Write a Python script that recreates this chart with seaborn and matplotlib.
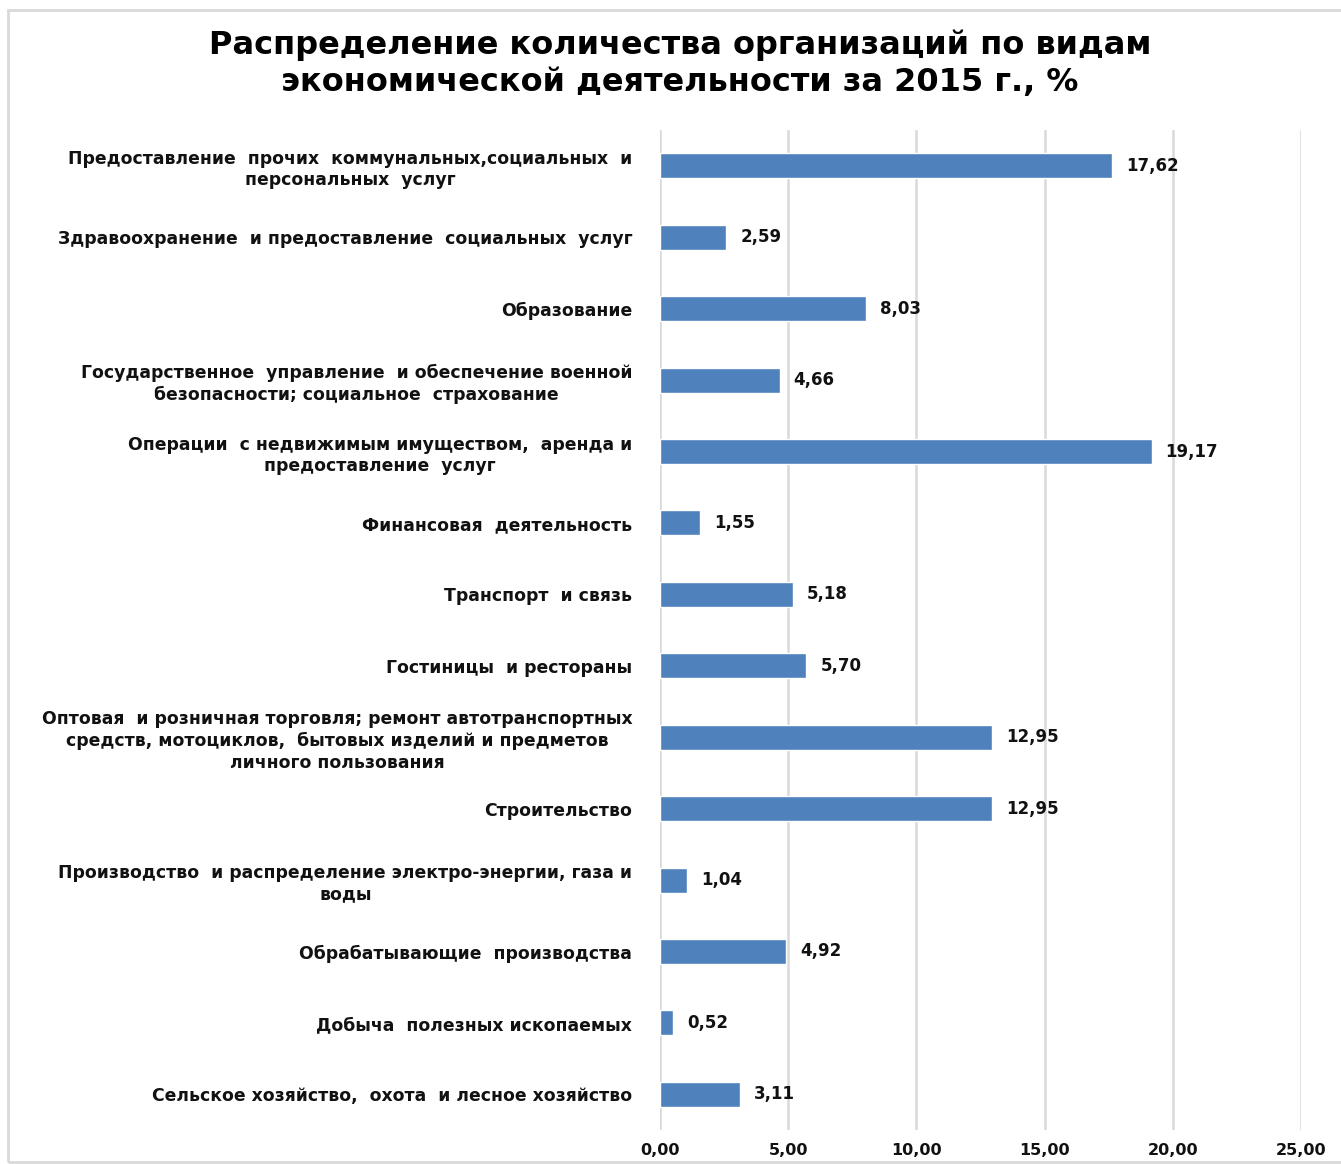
import matplotlib
matplotlib.use('Agg')
import matplotlib.pyplot as plt
import pandas as pd
import seaborn as sns
from matplotlib.patches import Rectangle
from matplotlib.ticker import FuncFormatter

# данные (сверху вниз, как на графике)
categories = [
    'Предоставление  прочих  коммунальных,социальных  и\nперсональных  услуг',
    'Здравоохранение  и предоставление  социальных  услуг',
    'Образование',
    'Государственное  управление  и обеспечение военной\nбезопасности; социальное  страхование',
    'Операции  с недвижимым имуществом,  аренда и\nпредоставление  услуг',
    'Финансовая  деятельность',
    'Транспорт  и связь',
    'Гостиницы  и рестораны',
    'Оптовая  и розничная торговля; ремонт автотранспортных\nсредств, мотоциклов,  бытовых изделий и предметов\nличного пользования',
    'Строительство',
    'Производство  и распределение электро-энергии, газа и\nводы',
    'Обрабатывающие  производства',
    'Добыча  полезных ископаемых',
    'Сельское хозяйство,  охота  и лесное хозяйство',
]
values = [17.62, 2.59, 8.03, 4.66, 19.17, 1.55, 5.18, 5.70, 12.95, 12.95, 1.04, 4.92, 0.52, 3.11]
x_ticks = [0, 5, 10, 15, 20, 25]

df = pd.DataFrame({'cat': categories, 'val': values})

sns.set_style('white')
plt.rcParams['font.family'] = ['DejaVu Sans']

fig = plt.figure(figsize=(13.41, 11.64), dpi=100)
ax = fig.add_axes([0.4922, 0.0292, 0.478, 0.859])

sns.barplot(data=df, y='cat', x='val', color='#4f81bd', saturation=1,
            width=0.35, ax=ax)

ax.set_xlim(0, 25)
ax.set_xticks(x_ticks)
ax.xaxis.set_major_formatter(FuncFormatter(lambda v, p: f'{v:.2f}'.replace('.', ',')))
ax.grid(axis='x', color='#d9d9d9', linewidth=1.8)
ax.set_axisbelow(True)
for s in ax.spines.values():
    s.set_visible(False)
ax.set_xlabel('')
ax.set_ylabel('')
ax.tick_params(axis='x', length=0, pad=9, labelsize=11.5, labelcolor='#111111')
ax.tick_params(axis='y', length=0, pad=20, labelsize=12.4, labelcolor='#111111')
for lab in ax.get_xticklabels():
    lab.set_fontweight('bold')
for lab in ax.get_yticklabels():
    lab.set_fontweight('bold')
    lab.set_multialignment('center')
    lab.set_linespacing(1.25)

for i, v in enumerate(values):
    ax.text(v + 0.55, i, f'{v:.2f}'.replace('.', ','), va='center', ha='left',
            fontsize=12, fontweight='bold', color='#111111')

fig.text(0.507, 0.9455, 'Распределение количества организаций по видам\nэкономической деятельности за 2015 г., %',
         ha='center', va='center', fontsize=23, fontweight='bold',
         linespacing=1.25, color='#000000')

fig.patches.append(Rectangle((8 / 1341, 2 / 1164), 1.0, 1 - 12 / 1164,
                             transform=fig.transFigure, fill=False,
                             edgecolor='#d9d9d9', linewidth=2))

fig.savefig('out.png', dpi=100)
